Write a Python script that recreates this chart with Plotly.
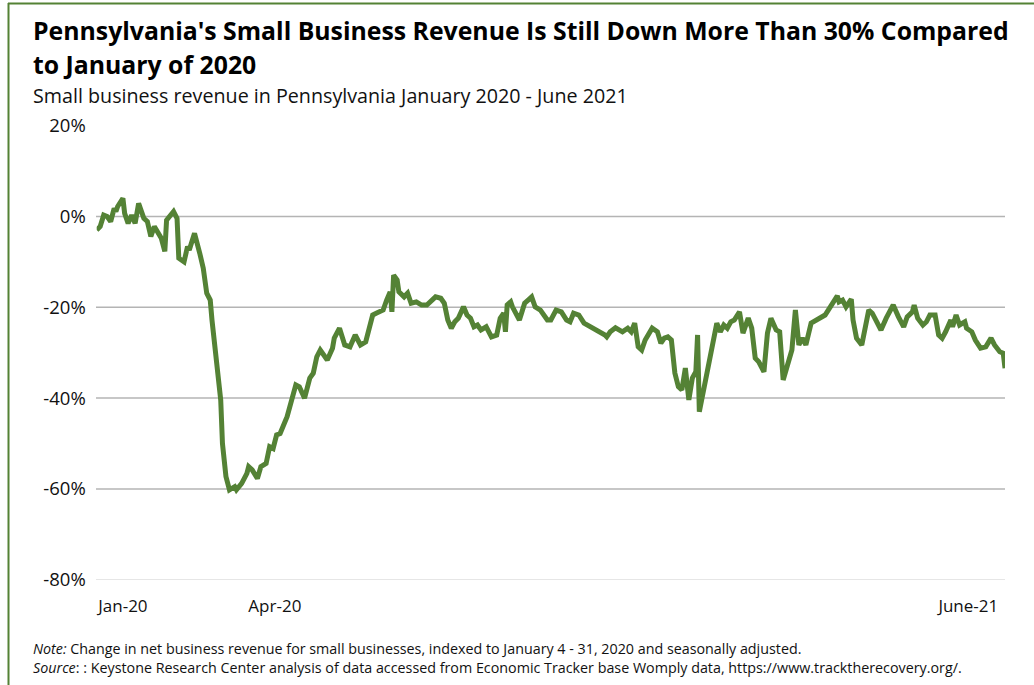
import pandas as pd
import plotly.graph_objects as go

# ---------------- data ----------------
start_date = "2020-01-10"
day_offsets = [0, 2, 4, 6, 8, 10, 11, 12, 15, 16, 18, 20, 22, 24, 27, 29, 31, 33, 37, 39,
               40, 44, 46, 47, 50, 52, 53, 56, 59, 61, 63, 65, 66, 68, 71, 72, 74, 76, 79, 80,
               83, 86, 87, 89, 92, 94, 97, 99, 101, 103, 105, 109, 112, 114, 116, 119, 122, 124, 126, 128,
               132, 135, 136, 139, 142, 145, 148, 151, 154, 155, 158, 160, 164, 166, 168, 169, 170, 172, 173, 176,
               178, 180, 183, 186, 189, 194, 197, 199, 201, 203, 205, 207, 210, 212, 214, 216, 218, 220, 223, 226,
               229, 231, 233, 234, 235, 237, 238, 242, 245, 247, 249, 251, 254, 258, 260, 263, 266, 269, 271, 273,
               276, 279, 281, 283, 288, 291, 292, 294, 297, 299, 301, 304, 306, 308, 310, 312, 314, 318, 321, 323,
               325, 327, 329, 331, 333, 335, 337, 339, 341, 343, 344, 345, 347, 349, 353, 355, 357, 359, 361, 363,
               365, 368, 370, 373, 375, 377, 379, 382, 384, 386, 389, 391, 393, 395, 398, 400, 402, 404, 406, 409,
               414, 417, 420, 424, 425, 427, 429, 432, 433, 435, 438, 440, 442, 444, 447, 449, 452, 454, 456, 459,
               462, 464, 467, 468, 470, 473, 475, 477, 480, 482, 484, 486, 489, 490, 492, 494, 497, 498, 501, 503,
               506, 509, 512, 514, 517, 519, 520]
revenue_change = [-3.0, -2.2, 0.3, 0.0, -1.1, 1.8, 1.1, 2.2, 4.0, 0.7, -1.5, 0.3, -1.5, 2.9, -0.4, -1.1, -4.4, -2.2, -4.8, -7.7,
                  -0.8, 1.1, -0.4, -9.2, -10.0, -6.6, -7.4, -3.7, -8.1, -11.4, -16.9, -18.4, -22.8, -30.1, -40.4, -50.0, -57.3, -60.2, -59.5, -60.2,
                  -58.8, -56.6, -55.1, -55.8, -57.7, -55.1, -54.4, -50.7, -51.1, -48.1, -47.8, -44.1, -40.4, -37.1, -37.5, -40.0, -35.6, -34.5, -30.9, -29.4,
                  -31.6, -29.0, -26.8, -24.6, -28.3, -28.7, -26.1, -28.3, -27.6, -26.1, -21.7, -21.3, -20.6, -18.4, -16.6, -21.0, -12.9, -14.0, -16.6, -17.7,
                  -16.9, -19.1, -18.8, -19.5, -19.5, -17.7, -18.0, -19.1, -22.8, -24.6, -23.2, -22.4, -19.9, -21.7, -22.4, -24.3, -23.9, -25.0, -24.3, -26.5,
                  -26.1, -22.4, -21.3, -25.4, -19.5, -18.8, -19.9, -22.8, -19.1, -18.4, -17.7, -19.9, -20.6, -22.8, -22.8, -20.6, -21.0, -22.8, -23.2, -21.3,
                  -21.7, -23.5, -23.9, -24.6, -25.5, -26.1, -26.5, -25.4, -24.5, -25.0, -25.4, -24.6, -25.4, -23.5, -28.7, -29.4, -27.2, -24.6, -25.4, -27.9,
                  -26.8, -26.5, -27.2, -34.5, -37.5, -38.2, -33.4, -40.4, -35.6, -34.2, -26.1, -43.0, -38.9, -36.0, -26.5, -23.5, -25.4, -23.9, -24.6, -23.2,
                  -22.8, -21.0, -25.7, -22.4, -24.6, -31.2, -32.0, -34.2, -25.7, -22.4, -25.0, -25.4, -36.0, -33.1, -29.4, -20.6, -28.3, -26.8, -28.3, -23.5,
                  -22.4, -21.7, -19.9, -17.5, -18.8, -18.4, -19.9, -18.2, -22.8, -26.8, -28.3, -24.6, -20.6, -21.3, -23.5, -25.0, -22.4, -20.6, -19.5, -22.1,
                  -24.3, -22.1, -21.0, -19.5, -22.4, -23.9, -23.2, -21.7, -21.7, -26.1, -26.8, -25.4, -22.8, -24.3, -21.7, -23.9, -23.2, -24.6, -25.4, -27.2,
                  -29.0, -28.7, -26.8, -28.3, -29.8, -30.1, -33.4]

x_range = ["2020-01-10", "2021-06-13"]
x_tick_dates = ["2020-01-25", "2020-04-21", "2021-05-23"]
x_tick_labels = ["Jan-20", "Apr-20", "June-21"]
y_ticks = [20, 0, -20, -40, -60, -80]
y_tick_labels = ["20%", "0%", "-20%", "-40%", "-60%", "-80%"]
y_grid_dark = [0, -20, -40, -60]
y_grid_light = [-80]

title_line1 = "Pennsylvania's Small Business Revenue Is Still Down More Than 30% Compared"
title_line2 = "to January of 2020"
subtitle = "Small business revenue in Pennsylvania January 2020 - June 2021"
note_text = "<i>Note:</i> Change in net business revenue for small businesses, indexed to January 4 - 31, 2020 and seasonally adjusted."
source_text = "<i>Source</i>: : Keystone Research Center analysis of data accessed from Economic Tracker base Womply data, https://www.tracktherecovery.org/."

# ---------------- figure ----------------
W, H = 1034, 685
GREEN = "#548235"
FONT = "Open Sans"

dates = pd.Timestamp(start_date) + pd.to_timedelta(day_offsets, unit="D")

fig = go.Figure()
fig.add_trace(go.Scatter(x=dates, y=revenue_change, mode="lines",
                         line=dict(color=GREEN, width=5), hoverinfo="x+y",
                         showlegend=False))

def px(x):
    return x / W

def py(y):
    return 1 - y / H

shapes = []
for g in y_grid_dark:
    shapes.append(dict(type="line", xref="paper", yref="y", x0=px(96), x1=px(1005), y0=g, y1=g,
                       line=dict(color="#b4b4b4", width=1.5), layer="below"))
for g in y_grid_light:
    shapes.append(dict(type="line", xref="paper", yref="y", x0=px(96), x1=px(1005), y0=g, y1=g,
                       line=dict(color="#dedede", width=1.5), layer="below"))
# frame
shapes.append(dict(type="line", xref="paper", yref="paper", x0=px(8), x1=1, y0=py(3.5), y1=py(3.5),
                   line=dict(color=GREEN, width=2)))
shapes.append(dict(type="line", xref="paper", yref="paper", x0=px(8.5), x1=px(8.5), y0=py(3), y1=0,
                   line=dict(color=GREEN, width=2)))

annotations = [
    dict(text="<b>" + title_line1 + "</b>", x=px(31), y=py(30), font=dict(size=24.8, color="#000", family=FONT)),
    dict(text="<b>" + title_line2 + "</b>", x=px(31), y=py(64), font=dict(size=24.8, color="#000", family=FONT)),
    dict(text=subtitle, x=px(31), y=py(96), font=dict(size=19.7, color="#111", family=FONT)),
    dict(text=note_text, x=px(31), y=py(648), font=dict(size=14.3, color="#111", family=FONT)),
    dict(text=source_text, x=px(31), y=py(667), font=dict(size=14.3, color="#111", family=FONT)),
]
for a in annotations:
    a.update(xref="paper", yref="paper", xanchor="left", yanchor="middle", showarrow=False)

fig.update_layout(
    width=W, height=H,
    margin=dict(l=0, r=0, t=0, b=0, autoexpand=False),
    paper_bgcolor="white", plot_bgcolor="white",
    font=dict(family=FONT, color="#111"),
    shapes=shapes, annotations=annotations,
    xaxis=dict(domain=[96.7 / W, 1005 / W], range=x_range, type="date",
               tickvals=x_tick_dates, ticktext=x_tick_labels, automargin=False,
               showgrid=False, zeroline=False, showline=False, ticks="",
               tickfont=dict(size=17, color="#111", family=FONT), ticklabelstandoff=14),
    yaxis=dict(domain=[py(579.7), py(125.7)], range=[-80, 20],
               tickvals=y_ticks, ticktext=y_tick_labels, automargin=False,
               showgrid=False, zeroline=False, showline=False, ticks="",
               tickfont=dict(size=18.5, color="#111", family=FONT), ticklabelstandoff=10),
)

fig.write_html("out.html", config={"displayModeBar": False},
               post_script="document.body.style.margin='0';document.body.style.overflow='hidden';")
